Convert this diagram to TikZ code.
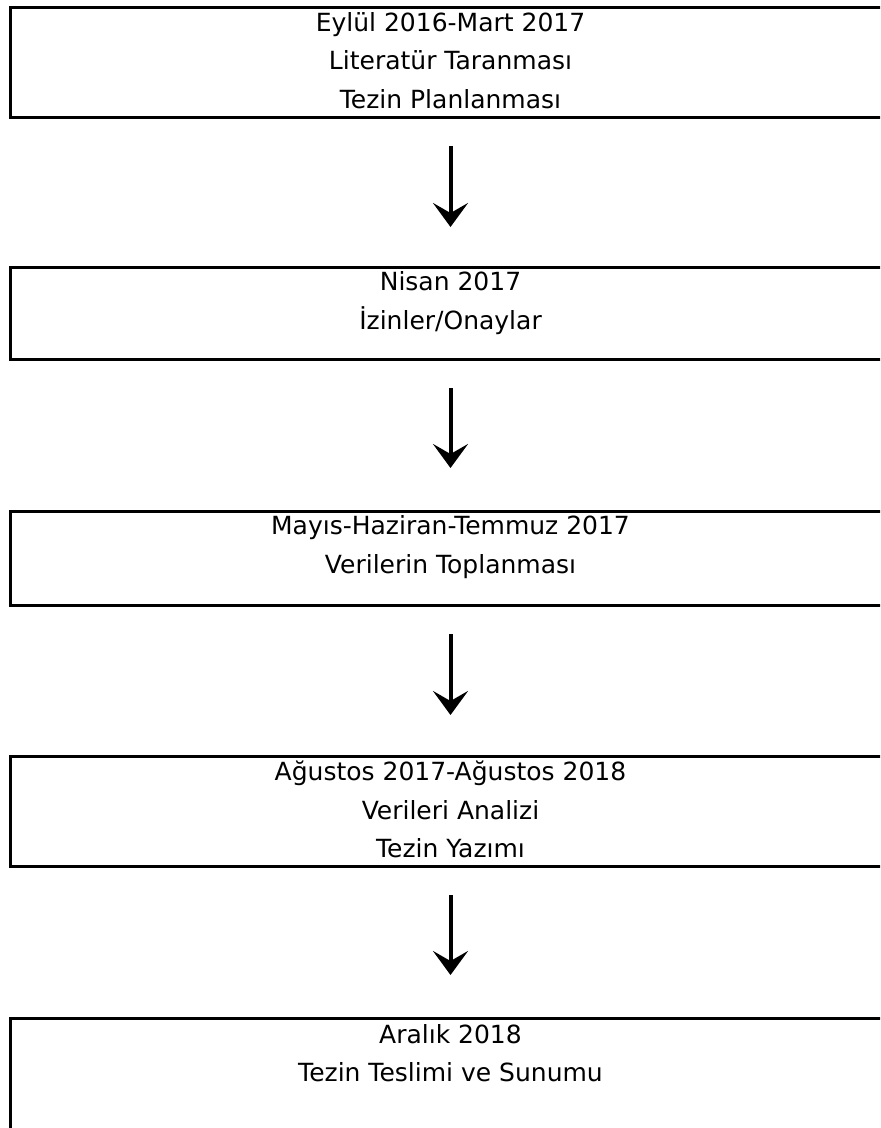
\documentclass[tikz,border=0pt]{standalone}
\usepackage{fontspec}
\setmainfont{DejaVu Sans}
\usetikzlibrary{arrows.meta,calc}

\begin{document}
\begin{tikzpicture}[x=0.5pt,y=-0.5pt,
      box/.style={rectangle,draw=black,line width=1.5pt,inner sep=0pt,
                  minimum width=440pt,anchor=north west},
      txt/.style={align=center,font=\fontsize{12.5}{19.25}\selectfont,inner sep=0pt},
      arr/.style={line width=2pt,shorten <=13.5pt,
                  -{Stealth[length=12pt,width=17.5pt,inset=5pt]}}]
    \useasboundingbox (0,0) rectangle (880,1128);
    \clip (0,0) rectangle (880,1128);
    \node[box,minimum height=55pt](s1) at (9,6){};
    \node[box,minimum height=46pt](s2) at (9,266){};
    \node[box,minimum height=47pt](s3) at (9,510){};
    \node[box,minimum height=55pt](s4) at (9,755){};
    \node[box,minimum height=65pt](s5) at (9,1017){};
    \node[txt](t1) at ($(s1.north)+(0,54.5)$){Eylül 2016-Mart 2017\\Literatür Taranması\\Tezin Planlanması};
    \node[txt](t2) at ($(s2.north)+(0,37)$){Nisan 2017\\İzinler/Onaylar};
    \node[txt](t3) at ($(s3.north)+(0,37)$){Mayıs-Haziran-Temmuz 2017\\Verilerin Toplanması};
    \node[txt](t4) at ($(s4.north)+(0,54.5)$){Ağustos 2017-Ağustos 2018\\Verileri Analizi\\Tezin Yazımı};
    \node[txt](t5) at ($(s5.north)+(0,36)$){Aralık 2018\\Tezin Teslimi ve Sunumu};
    \draw[arr,shorten >=19.5pt](s1)--(s2);
    \draw[arr,shorten >=21pt](s2)--(s3);
    \draw[arr,shorten >=20pt](s3)--(s4);
    \draw[arr,shorten >=21pt](s4)--(s5);
  \end{tikzpicture}
\end{document}
